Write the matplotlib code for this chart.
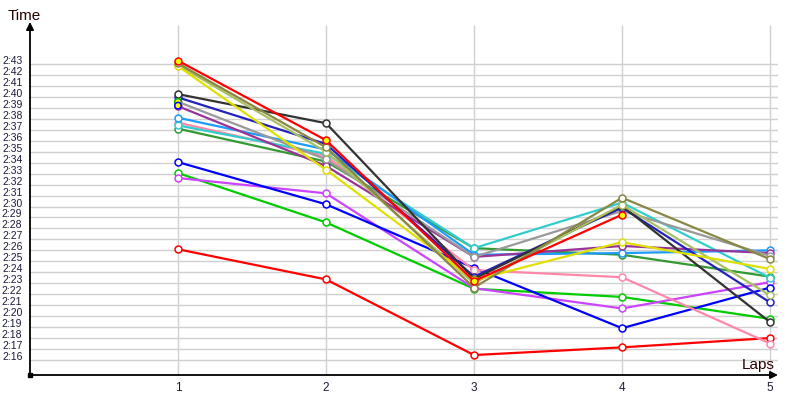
import matplotlib
matplotlib.use("Agg")
import matplotlib.pyplot as plt
from matplotlib.transforms import ScaledTranslation

# lap numbers and lap times (seconds, 163.3 = 2:43.3)
laps = [1, 2, 3, 4, 5]

series_names = [
    "red_low", "green", "violet", "blue", "pink", "dark_green", "cyan",
    "light_blue", "purple", "gray", "dark_blue", "black", "yellow_green",
    "yellow", "olive", "red_top",
]
series_colors = [
    "#ff0000", "#00cc00", "#cc44ff", "#0000ff", "#ff88aa", "#339933", "#33cccc",
    "#1e9bff", "#993399", "#999999", "#2222bb", "#333333", "#a8c060",
    "#e0e000", "#888844", "#ff0000",
]
series_times = [
    [146.1, 143.35, 136.45, 137.15, 138.0],
    [153.05, 148.55, 142.5, 141.75, 139.75],
    [152.6, 151.2, 142.55, 140.7, 143.1],
    [154.05, 150.2, 144.4, 138.9, 142.6],
    [157.65, 154.6, 144.2, 143.55, 137.5],
    [157.1, 154.1, 146.2, 145.6, 143.6],
    [157.4, 154.8, 146.2, 150.35, 143.5],
    [158.1, 155.2, 145.6, 145.75, 146.0],
    [159.15, 153.7, 145.4, 146.4, 145.75],
    [159.55, 154.3, 145.4, 149.6, 145.5],
    [159.95, 155.7, 143.6, 149.9, 141.25],
    [160.25, 157.6, 143.4, 150.05, 139.45],
    [162.9, 155.0, 143.0, 150.15, 141.9],
    [162.8, 153.35, 143.3, 146.75, 144.3],
    [163.05, 155.4, 142.6, 150.8, 145.2],
    [163.3, 156.05, 143.2, 149.25],
]
series_face = ["white"] * 15 + ["#ffff00"]

# markers shown with a yellow fill on lap 1
hl_laps = [1, 1]
hl_times = [159.55, 159.2]
hl_edges = ["#00aa00", "#0000ff"]

tick_secs = list(range(136, 164))
tick_labels = ["2:%02d" % (s - 120) for s in tick_secs]

fig = plt.figure(figsize=(8, 4), dpi=100)
ax = fig.add_axes([30 / 800, 25 / 400, 748 / 800, 353 / 400])
ax.set_xlim(0, 5.054)
ax.set_ylim(134.63, 166.83)

for s in ax.spines.values():
    s.set_visible(False)

# grid
ax.hlines(tick_secs, 0, 5.054, color="#d0d0d0", lw=1, zorder=0)
ax.vlines(laps, 134.63, 166.55, color="#d0d0d0", lw=1, zorder=0)

for name, col, vals, face in zip(series_names, series_colors, series_times, series_face):
    ax.plot(laps[:len(vals)], vals, color=col, lw=1.6, marker="o", ms=5,
            mfc=face, mec=col, mew=1.1, zorder=3, solid_capstyle="round")

ax.scatter(hl_laps, hl_times, s=22, c="#ffff00", edgecolors=hl_edges,
           linewidths=1.1, zorder=4)

# axes with arrows
ax.annotate("", xy=(0, 1), xytext=(0, 0), xycoords="axes fraction",
            arrowprops=dict(arrowstyle="-|>", color="black", lw=1.3,
                            mutation_scale=11, shrinkA=0, shrinkB=0),
            annotation_clip=False)
ax.annotate("", xy=(1, 0), xytext=(0, 0), xycoords="axes fraction",
            arrowprops=dict(arrowstyle="-|>", color="black", lw=1.3,
                            mutation_scale=11, shrinkA=0, shrinkB=0),
            annotation_clip=False)
ax.plot([0], [134.63], marker="s", ms=3.5, color="black", clip_on=False, zorder=5)

ax.set_yticks(tick_secs)
ax.set_yticklabels(tick_labels, fontsize=7.5, color="#1a1a3a",
                   family="Liberation Sans")
ax.set_xticks(laps)
ax.set_xticklabels([str(l) for l in laps], fontsize=8.5, color="#1a1a3a",
                   family="Liberation Sans")
ax.tick_params(axis="both", length=0)
ax.tick_params(axis="y", pad=5.5)
ax.tick_params(axis="x", pad=5)
for lab in ax.get_yticklabels():
    lab.set_transform(lab.get_transform() + ScaledTranslation(0, 4 / 100, fig.dpi_scale_trans))

fig.text(8 / 800, 1 - 16 / 400, "Time", fontsize=11, color="#2a0000",
         family="Liberation Sans", va="center", ha="left")
fig.text(775 / 800, 1 - 365 / 400, "Laps", fontsize=11, color="#2a0000",
         family="Liberation Sans", va="center", ha="right")

fig.savefig("out.png", dpi=100)
